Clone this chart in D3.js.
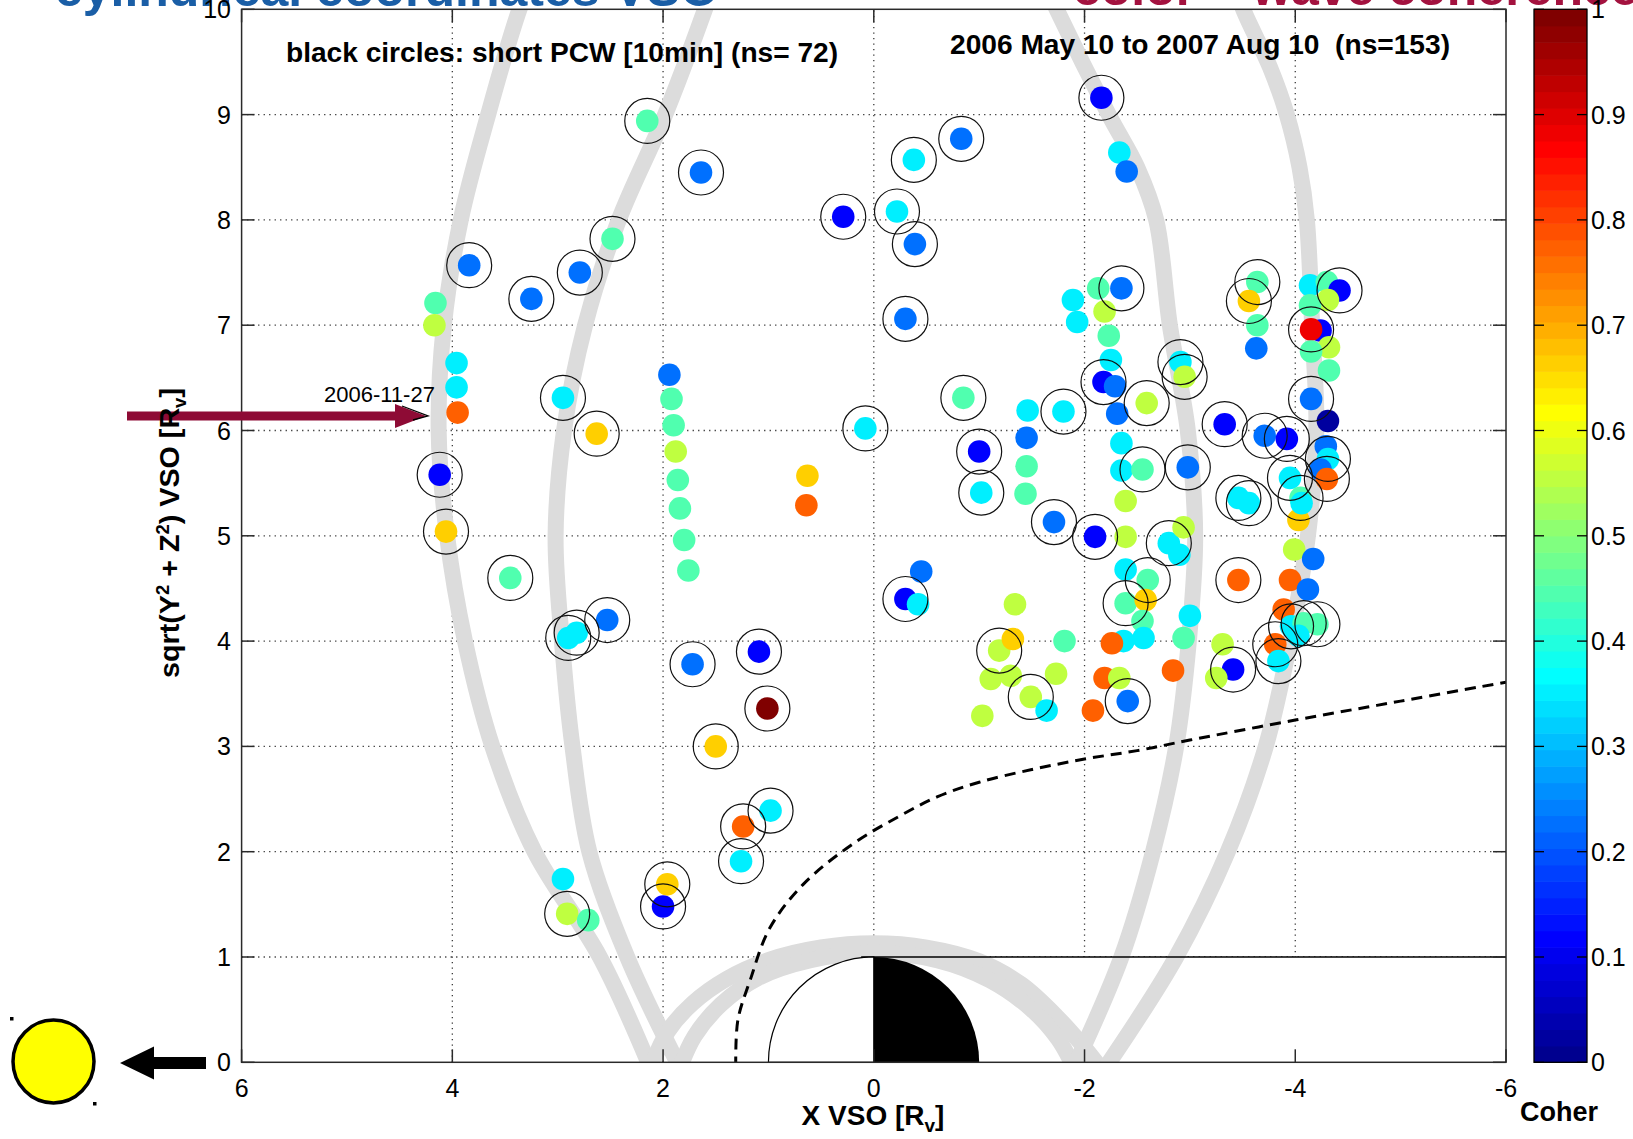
<!DOCTYPE html>
<html><head><meta charset="utf-8">
<script src="https://cdn.jsdelivr.net/npm/d3@7"></script>
<style>
html,body{margin:0;padding:0;background:#fff;overflow:hidden}
svg{display:block;font-family:"Liberation Sans",Arial,Helvetica,sans-serif}
text{white-space:pre}
</style></head><body>
<svg id="c" width="1633" height="1139"></svg>
<script>
// ---------------- DATA ----------------
const xTicks = [6, 4, 2, 0, -2, -4, -6];
const xTickLabels = ["6", "4", "2", "0", "-2", "-4", "-6"];
const yTicks = [0, 1, 2, 3, 4, 5, 6, 7, 8, 9, 10];
const yTickLabels = ["0", "1", "2", "3", "4", "5", "6", "7", "8", "9", "10"];
const cbTicks = [0, 0.1, 0.2, 0.3, 0.4, 0.5, 0.6, 0.7, 0.8, 0.9, 1];
const cbTickLabels = ["0", "0.1", "0.2", "0.3", "0.4", "0.5", "0.6", "0.7", "0.8", "0.9", "1"];

// event positions (X VSO, sqrt(Y^2+Z^2)), coherence, short-PCW flag (black circle)
const ptX = [2.15,1.64,0.29,3.84,2.48,2.79,3.25,4.16,4.17,3.96,3.96,3.95,2.95,2.63,4.12,4.06,1.94,1.92,1.90,1.88,1.86,1.84,1.80,1.76,0.63,0.64,0.08,-0.22,-0.39,-0.30,-0.38,-0.83,-2.16,-2.33,-2.40,
  3.45,2.53,2.90,2.82,1.72,1.09,1.01,1.50,0.98,1.24,1.26,2.95,2.91,2.71,1.96,2.00,-0.30,-0.42,-0.45,
  -0.85,-1.00,-1.02,-1.46,-1.45,-1.45,-1.44,-1.80,-1.71,-2.10,
  -1.89,-1.93,-2.13,-2.35,-2.19,-2.23,-2.25,-2.18,-2.29,-2.31,-2.59,-2.35,-2.35,-2.55,-2.98,-2.39,-2.91,-2.95,-3.64,-3.56,-3.64,-3.63,-3.33,-3.71,-3.92,-3.95,
  -4.14,-4.30,-4.42,-4.31,-4.14,-4.24,-4.15,-4.32,-4.15,-4.32,-4.15,-4.31,-4.29,-4.31,-4.24,-4.30,-3.46,-3.56,-4.05,
  -2.39,-2.39,-2.60,-2.39,-2.58,-2.55,-2.37,-2.56,-2.26,-2.80,-2.90,-2.94,-3.00,-2.94,-2.84,-2.19,-2.33,-2.41,-2.08,
  -1.34,-1.19,-1.32,-1.11,-1.30,-1.49,-1.64,-1.73,-1.81,-1.03,
  -3.46,-3.41,-3.25,-3.31,-3.99,-4.17,-3.95,-4.12,-3.89,-3.96,-4.08,-4.21,-4.03,-3.81,-3.84,-4.03,-4.06];
const ptY = [8.94,8.45,8.03,7.57,7.82,7.50,7.25,7.21,7.00,6.64,6.41,6.17,6.31,5.97,5.58,5.04,6.53,6.30,6.05,5.80,5.53,5.26,4.96,4.67,5.57,5.29,6.02,8.08,7.77,7.06,8.57,8.77,9.16,8.64,8.46,
  4.60,4.20,4.03,4.08,3.78,3.90,3.36,3.00,2.39,2.24,1.91,1.74,1.41,1.35,1.69,1.48,4.40,4.35,4.66,
  6.31,5.80,5.41,6.19,5.93,5.66,5.40,6.18,5.13,4.99,
  7.24,7.03,7.35,7.35,7.13,6.90,6.67,6.46,6.42,6.16,6.26,5.88,5.62,5.63,5.65,5.33,6.65,6.51,7.41,7.23,7.00,6.78,6.06,5.95,5.92,5.55,
  7.38,7.41,7.33,7.24,7.19,6.95,6.96,6.79,6.75,6.57,6.30,6.09,5.85,5.73,5.63,5.54,5.36,5.31,5.36,
  4.99,4.68,4.58,4.36,4.39,4.19,4.00,4.03,3.98,4.93,4.82,5.08,4.24,4.03,3.72,3.65,3.65,3.43,3.34,
  4.35,3.91,4.02,3.64,3.67,3.47,3.34,3.69,4.00,3.29,
  4.58,3.73,3.65,3.97,4.87,4.78,4.58,4.49,4.30,4.14,4.17,4.16,4.05,3.97,3.81,5.15,5.31];
const ptCoh = [0.45,0.22,0.12,0.22,0.45,0.22,0.22,0.45,0.56,0.35,0.35,0.77,0.35,0.67,0.12,0.66,0.23,0.45,0.45,0.56,0.45,0.45,0.45,0.45,0.66,0.77,0.35,0.35,0.22,0.22,0.35,0.22,0.12,0.35,0.22,
  0.45,0.22,0.35,0.35,0.22,0.12,1.00,0.66,0.35,0.77,0.35,0.35,0.56,0.45,0.66,0.12,0.12,0.35,0.22,
  0.45,0.12,0.35,0.35,0.22,0.45,0.45,0.35,0.22,0.12,
  0.35,0.35,0.45,0.22,0.56,0.45,0.35,0.12,0.22,0.22,0.56,0.35,0.35,0.45,0.22,0.56,0.35,0.56,0.45,0.66,0.45,0.22,0.12,0.22,0.12,0.35,
  0.35,0.45,0.12,0.56,0.45,0.12,0.89,0.56,0.45,0.45,0.22,0.02,0.22,0.35,0.22,0.77,0.35,0.35,0.45,
  0.56,0.35,0.45,0.45,0.66,0.45,0.35,0.35,0.77,0.35,0.35,0.56,0.35,0.45,0.77,0.77,0.56,0.22,0.77,
  0.56,0.56,0.66,0.56,0.56,0.56,0.35,0.56,0.45,0.56,
  0.77,0.12,0.56,0.56,0.56,0.22,0.77,0.22,0.77,0.35,0.45,0.45,0.35,0.77,0.35,0.66,0.35];
const ptRing = [1,1,1,1,1,1,1,0,0,0,0,0,1,1,1,1,0,0,0,0,0,0,0,0,0,0,1,1,1,1,1,1,1,0,0,
  1,1,1,1,1,1,1,1,1,1,1,0,1,0,1,1,1,0,0,
  1,1,1,0,0,0,0,1,1,1,
  0,0,0,1,0,0,0,1,0,0,1,0,0,1,1,0,1,1,1,1,0,0,1,1,1,1,
  0,0,1,0,0,0,1,0,0,0,1,0,0,1,0,1,1,1,1,
  0,0,1,1,0,0,0,0,0,1,0,0,0,0,0,0,0,1,0,
  0,1,0,0,0,1,0,0,0,0,
  1,1,0,0,0,0,0,0,0,1,1,1,0,1,1,0,0];

// orbit tracks (gray)
const trackOuterLeft  = [[3.25,10.3],[3.38,9.95],[3.66,9.0],[3.92,8.0],[4.08,7.0],[4.13,6.0],[4.05,5.0],[3.88,4.0],[3.62,3.0],[3.22,2.0],[2.6,1.0],[2.12,-0.05]];
const trackInnerLeft  = [[1.5,10.3],[1.62,9.95],[1.98,9.0],[2.42,8.0],[2.74,7.0],[2.94,6.0],[3.02,5.0],[2.96,4.0],[2.86,3.0],[2.70,2.0],[2.34,1.0],[1.84,-0.05]];
const trackOuterArch  = [[2.12,-0.05],[1.95,0.3],[1.72,0.56],[1.4,0.79],[1.0,0.97],[0.5,1.09],[0,1.13],[-0.5,1.09],[-1.0,0.96],[-1.4,0.74],[-1.75,0.42],[-2.0,0.14],[-2.15,-0.05]];
const trackInnerArch  = [[1.84,-0.05],[1.7,0.25],[1.45,0.55],[1.1,0.8],[0.6,0.97],[0,1.04],[-0.6,0.97],[-1.1,0.78],[-1.5,0.5],[-1.75,0.22],[-1.9,-0.05]];
const trackInnerRight = [[-1.9,-0.05],[-2.35,1.0],[-2.65,2.0],[-2.87,3.0],[-2.99,4.0],[-3.05,5.0],[-2.98,6.0],[-2.81,7.0],[-2.68,8.0],[-2.5,8.5],[-2.23,9.0],[-1.74,9.99],[-1.6,10.3]];
const trackOuterRight = [[-2.2,-0.05],[-2.87,1.0],[-3.36,2.0],[-3.72,3.0],[-3.95,4.0],[-4.12,5.0],[-4.2,6.0],[-4.16,7.0],[-4.11,8.0],[-4.04,8.5],[-3.92,9.0],[-3.76,9.45],[-3.51,9.99],[-3.4,10.3]];
// boundary (dashed)
const boundary = [[1.31,-0.05],[1.29,0.4],[1.17,0.79],[0.99,1.27],[0.67,1.69],[0.19,2.08],[-0.23,2.33],[-0.6,2.52],[-1.0,2.66],[-1.5,2.78],[-2.0,2.88],[-2.5,2.96],[-3.0,3.06],[-4.0,3.25],[-5.0,3.43],[-6.0,3.61]];

// ---------------- DRAW ----------------
const svg = d3.select("#c");
const L = 241.6, R = 1506, T = 9.3, B = 1062.3;
const x = d3.scaleLinear().domain([6, -6]).range([L, R]);
const y = d3.scaleLinear().domain([0, 10]).range([B, T]);

function jet(v) {
  const c = t => Math.max(0, Math.min(1, t));
  return d3.rgb(255 * c(1.5 - Math.abs(4 * v - 3)), 255 * c(1.5 - Math.abs(4 * v - 2)), 255 * c(1.5 - Math.abs(4 * v - 1))).formatHex();
}
const jetColors = d3.range(64).map(i => jet((i + 1) / 64));
const color = d3.scaleQuantize().domain([0, 1]).range(jetColors);

// titles (cut at top)
svg.append("text").attr("x", 719).attr("y", 6).attr("text-anchor", "end")
  .attr("font-size", 50).attr("font-weight", "bold").attr("fill", "#1a5ea6")
  .text("cylindrical coordinates VSO");
svg.append("text").attr("x", 1073).attr("y", 5)
  .attr("font-size", 50).attr("font-weight", "bold").attr("fill", "#a3123f")
  .text("color = wave coherence");

svg.append("defs").append("clipPath").attr("id", "clip")
  .append("rect").attr("x", L).attr("y", T).attr("width", R - L).attr("height", B - T);

const plot = svg.append("g");
plot.append("rect").attr("x", L).attr("y", T).attr("width", R - L).attr("height", B - T).attr("fill", "#fff");

// grid
const grid = plot.append("g").attr("stroke", "#3a3a3a").attr("stroke-width", 1.3).attr("stroke-dasharray", "1.3,4.2");
grid.selectAll(".gx").data(xTicks.filter(d => d !== 6 && d !== -6)).join("line")
  .attr("x1", d => x(d)).attr("x2", d => x(d)).attr("y1", B).attr("y2", T);
grid.selectAll(".gy").data(yTicks.filter(d => d !== 0 && d !== 10)).join("line")
  .attr("x1", L).attr("x2", R).attr("y1", d => y(d)).attr("y2", d => y(d));

// optical shadow region
const shadowX0 = 0.12;
plot.append("rect").attr("x", x(shadowX0)).attr("y", y(1)).attr("width", x(-6) - x(shadowX0)).attr("height", y(0) - y(1)).attr("fill", "#fff");

// orbit tracks
const line = d3.line().x(d => x(d[0])).y(d => y(d[1])).curve(d3.curveCatmullRom.alpha(0.5));
const tracks = plot.append("g").attr("clip-path", "url(#clip)");
[trackOuterLeft, trackInnerLeft, trackOuterArch, trackInnerArch, trackInnerRight, trackOuterRight].forEach(t => {
  tracks.append("path").attr("d", line(t)).attr("fill", "none").attr("stroke", "#dcdcdc")
    .attr("stroke-width", 16).attr("stroke-linecap", "round").attr("stroke-linejoin", "round");
});

// shadow boundary line
plot.append("line").attr("x1", x(shadowX0)).attr("x2", x(-6)).attr("y1", y(1)).attr("y2", y(1))
  .attr("stroke", "#000").attr("stroke-width", 1.6);

// dashed boundary
plot.append("path").attr("clip-path", "url(#clip)").attr("d", line(boundary)).attr("fill", "none")
  .attr("stroke", "#000").attr("stroke-width", 3).attr("stroke-dasharray", "11,7");

// planet
const rp = x(0) - x(1);
const pg = plot.append("g").attr("transform", `translate(${x(0)},${y(0)})`);
pg.append("path").attr("d", d3.arc()({innerRadius: 0, outerRadius: rp, startAngle: -Math.PI / 2, endAngle: 0}))
  .attr("fill", "#fff").attr("stroke", "#000").attr("stroke-width", 1.2);
pg.append("path").attr("d", d3.arc()({innerRadius: 0, outerRadius: rp, startAngle: 0, endAngle: Math.PI / 2}))
  .attr("fill", "#000");

// points
const pts = d3.range(ptX.length).map(i => ({x: ptX[i], y: ptY[i], c: ptCoh[i], r: ptRing[i]}));
plot.append("g").selectAll("circle").data(pts).join("circle")
  .attr("cx", d => x(d.x)).attr("cy", d => y(d.y)).attr("r", 11.3).attr("fill", d => color(d.c));
plot.append("g").selectAll("circle").data(pts.filter(d => d.r)).join("circle")
  .attr("cx", d => x(d.x)).attr("cy", d => y(d.y)).attr("r", 22.5)
  .attr("fill", "none").attr("stroke", "#111").attr("stroke-width", 1.2);

// frame & ticks
const ax = svg.append("g").attr("stroke", "#2a2a2a").attr("stroke-width", 1.5);
ax.append("rect").attr("x", L).attr("y", T).attr("width", R - L).attr("height", B - T).attr("fill", "none");
xTicks.forEach(d => {
  ax.append("line").attr("x1", x(d)).attr("x2", x(d)).attr("y1", B).attr("y2", B - 13);
  ax.append("line").attr("x1", x(d)).attr("x2", x(d)).attr("y1", T).attr("y2", T + 13);
});
yTicks.forEach(d => {
  ax.append("line").attr("x1", L).attr("x2", L + 13).attr("y1", y(d)).attr("y2", y(d));
  ax.append("line").attr("x1", R).attr("x2", R - 13).attr("y1", y(d)).attr("y2", y(d));
});

// tick labels
svg.append("g").selectAll("text").data(xTicks).join("text")
  .attr("x", d => x(d)).attr("y", 1097).attr("text-anchor", "middle").attr("font-size", 25)
  .text((d, i) => xTickLabels[i]);
svg.append("g").selectAll("text").data(yTicks).join("text")
  .attr("x", 231).attr("y", d => y(d) + 9).attr("text-anchor", "end").attr("font-size", 25)
  .text((d, i) => yTickLabels[i]);

// annotations
function fit(sel, w) { sel.attr("textLength", w).attr("lengthAdjust", "spacingAndGlyphs"); }
fit(svg.append("text").attr("x", 286).attr("y", 62).attr("font-size", 28).attr("font-weight", "bold")
  .text("black circles: short PCW [10min] (ns= 72)"), 552);
fit(svg.append("text").attr("x", 950).attr("y", 54).attr("font-size", 28).attr("font-weight", "bold")
  .text("2006 May 10 to 2007 Aug 10  (ns=153)"), 500);
svg.append("text").attr("x", 324).attr("y", 402).attr("font-size", 22).text("2006-11-27");

// red arrow marking 2006-11-27
svg.append("path").attr("d", "M127,411.5 L395,411.5 L395,404 L426,416 L395,428 L395,420.5 L127,420.5 Z").attr("fill", "#8e0b35");
svg.append("path").attr("d", "M402,406 L428,416 L413,420").attr("fill", "none").attr("stroke", "#000").attr("stroke-width", 1.3);

// axis labels
svg.append("text").attr("x", 873).attr("y", 1125).attr("text-anchor", "middle").attr("font-size", 28).attr("font-weight", "bold")
  .call(t => {
    t.append("tspan").text("X VSO [R");
    t.append("tspan").attr("dy", 7).attr("font-size", 19).text("v");
    t.append("tspan").attr("dy", -7).text("]");
  });
const yl = svg.append("text").attr("text-anchor", "middle").attr("font-size", 28).attr("font-weight", "bold");
yl.append("tspan").text("sqrt(Y");
yl.append("tspan").attr("dy", -10).attr("font-size", 18).text("2");
yl.append("tspan").attr("dy", 10).text(" + Z");
yl.append("tspan").attr("dy", -10).attr("font-size", 18).text("2");
yl.append("tspan").attr("dy", 10).text(") VSO [R");
yl.append("tspan").attr("dy", 7).attr("font-size", 18).text("v");
yl.append("tspan").attr("dy", -7).text("]");
const ylw = yl.node().getBBox().width;
yl.attr("transform", `translate(179,533) rotate(-90) scale(${290 / ylw},1)`);

// colorbar
const cbL = 1534, cbR = 1587;
const cy = d3.scaleLinear().domain([0, 1]).range([B, T]);
const cb = svg.append("g");
cb.selectAll("rect").data(jetColors).join("rect")
  .attr("x", cbL).attr("width", cbR - cbL)
  .attr("y", (d, i) => cy((i + 1) / 64)).attr("height", (d, i) => cy(i / 64) - cy((i + 1) / 64) + 0.6)
  .attr("fill", d => d);
cb.append("rect").attr("x", cbL).attr("y", T).attr("width", cbR - cbL).attr("height", B - T)
  .attr("fill", "none").attr("stroke", "#000").attr("stroke-width", 1.3);
cbTicks.forEach(d => {
  cb.append("line").attr("x1", cbL).attr("x2", cbL + 10).attr("y1", cy(d)).attr("y2", cy(d)).attr("stroke", "#000").attr("stroke-width", 1.3);
  cb.append("line").attr("x1", cbR).attr("x2", cbR - 10).attr("y1", cy(d)).attr("y2", cy(d)).attr("stroke", "#000").attr("stroke-width", 1.3);
});
cb.selectAll("text").data(cbTicks).join("text")
  .attr("x", 1591).attr("y", d => cy(d) + 9).attr("font-size", 25).text((d, i) => cbTickLabels[i]);
svg.append("text").attr("x", 1559).attr("y", 1121).attr("text-anchor", "middle").attr("font-size", 27).attr("font-weight", "bold").text("Coher");

// Sun icon and arrow
svg.append("ellipse").attr("cx", 53.5).attr("cy", 1061.5).attr("rx", 40.5).attr("ry", 41.5)
  .attr("fill", "#ffff00").attr("stroke", "#000").attr("stroke-width", 3.5);
svg.append("rect").attr("x", 10).attr("y", 1017).attr("width", 3.5).attr("height", 3.5).attr("fill", "#000");
svg.append("rect").attr("x", 93).attr("y", 1102).attr("width", 3.5).attr("height", 3.5).attr("fill", "#000");
svg.append("path").attr("d", "M120,1063 L154,1046.5 L154,1057 L206,1057 L206,1069 L154,1069 L154,1079.5 Z").attr("fill", "#000");
</script>
</body></html>
